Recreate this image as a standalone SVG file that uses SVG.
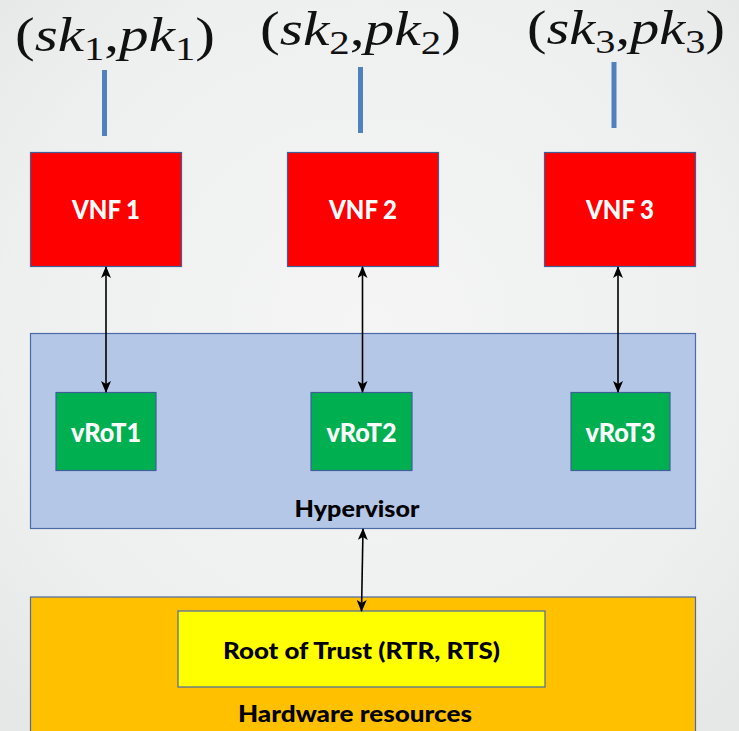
<svg xmlns="http://www.w3.org/2000/svg" width="739" height="731" viewBox="0 0 739 731">
  <defs>
    <radialGradient id="bg" cx="50%" cy="45%" r="70%">
      <stop offset="0" stop-color="#f5f5f5"/>
      <stop offset="0.7" stop-color="#eeefef"/>
      <stop offset="1" stop-color="#e6e7e7"/>
    </radialGradient>
    <marker id="head" viewBox="0 0 12 10" refX="11" refY="5" markerWidth="12" markerHeight="10" markerUnits="userSpaceOnUse" orient="auto-start-reverse">
      <path d="M0,0 L12,5 L0,10 L3,5 Z" fill="#000"/>
    </marker>
  </defs>
  <style>
    .vnf { fill: #ff0000; stroke: #3f5f9a; stroke-width: 1.2; }
    .vrot { fill: #00b050; stroke: #3f5f9a; stroke-width: 1.2; }
    .hyp { fill: #b4c7e7; stroke: #4a6aa8; stroke-width: 1.2; }
    .hw { fill: #ffc000; stroke: #4a6aa8; stroke-width: 1.2; }
    .rot { fill: #ffff00; stroke: #4a6aa8; stroke-width: 1.2; }
    .lbl { font-family: Lato, "Open Sans", "Liberation Sans", sans-serif; font-weight: 900; text-anchor: middle; }
    .w { fill: #ffffff; }
    .k { fill: #000000; }
    .math { font-family: "Liberation Serif", "DejaVu Serif", serif; font-size: 48px; fill: #111; }
    .it { font-style: italic; }
    .sub { font-size: 33px; }
    .key { stroke: #4f81bd; stroke-width: 5; }
    .conn { stroke: #000; stroke-width: 1.6; fill: none; marker-start: url(#head); marker-end: url(#head); }
  </style>

  <rect width="739" height="731" fill="url(#bg)"/>

  <!-- key pair labels -->
  <g id="keys">
    <text class="math" x="15" y="51" textLength="200" lengthAdjust="spacingAndGlyphs">(<tspan class="it">sk</tspan><tspan class="sub" dy="9">1</tspan><tspan dy="-9">,</tspan><tspan class="it">pk</tspan><tspan class="sub" dy="9">1</tspan><tspan dy="-9">)</tspan></text>
    <text class="math" x="260" y="45" textLength="201" lengthAdjust="spacingAndGlyphs">(<tspan class="it">sk</tspan><tspan class="sub" dy="9">2</tspan><tspan dy="-9">,</tspan><tspan class="it">pk</tspan><tspan class="sub" dy="9">2</tspan><tspan dy="-9">)</tspan></text>
    <text class="math" x="527" y="44" textLength="198" lengthAdjust="spacingAndGlyphs">(<tspan class="it">sk</tspan><tspan class="sub" dy="9">3</tspan><tspan dy="-9">,</tspan><tspan class="it">pk</tspan><tspan class="sub" dy="9">3</tspan><tspan dy="-9">)</tspan></text>
    <line class="key" x1="104.5" y1="70" x2="104.5" y2="136"/>
    <line class="key" x1="360.5" y1="67" x2="360.5" y2="133"/>
    <line class="key" x1="614" y1="62" x2="614" y2="128"/>
  </g>

  <!-- hardware layer -->
  <g id="hardware">
    <rect class="hw" x="30.5" y="597" width="665" height="140"/>
    <text class="lbl k" x="355" y="722" font-size="23" textLength="234" lengthAdjust="spacingAndGlyphs">Hardware resources</text>
  </g>
  <g id="rot">
    <rect class="rot" x="178" y="611" width="367" height="76"/>
    <text class="lbl k" x="361.5" y="659" font-size="23" textLength="277" lengthAdjust="spacingAndGlyphs">Root of Trust (RTR, RTS)</text>
  </g>

  <!-- hypervisor layer -->
  <g id="hypervisor">
    <rect class="hyp" x="30.5" y="333.5" width="665" height="195"/>
    <text class="lbl k" x="357" y="517" font-size="22" textLength="125" lengthAdjust="spacingAndGlyphs">Hypervisor</text>
  </g>

  <!-- VNFs -->
  <g id="vnf1">
    <rect class="vnf" x="30.5" y="152.5" width="151" height="114"/>
    <text class="lbl w" x="106" y="219" font-size="27" textLength="68" lengthAdjust="spacingAndGlyphs">VNF 1</text>
  </g>
  <g id="vnf2">
    <rect class="vnf" x="287.5" y="152.5" width="151" height="114"/>
    <text class="lbl w" x="363" y="219" font-size="27" textLength="68" lengthAdjust="spacingAndGlyphs">VNF 2</text>
  </g>
  <g id="vnf3">
    <rect class="vnf" x="544.5" y="152.5" width="151" height="114"/>
    <text class="lbl w" x="620" y="219" font-size="27" textLength="68" lengthAdjust="spacingAndGlyphs">VNF 3</text>
  </g>

  <!-- virtual roots of trust -->
  <g id="vrot1">
    <rect class="vrot" x="56" y="392.5" width="100" height="78"/>
    <text class="lbl w" x="106" y="442" font-size="26" textLength="70" lengthAdjust="spacingAndGlyphs">vRoT1</text>
  </g>
  <g id="vrot2">
    <rect class="vrot" x="311" y="392.5" width="101" height="78"/>
    <text class="lbl w" x="361.5" y="442" font-size="26" textLength="70" lengthAdjust="spacingAndGlyphs">vRoT2</text>
  </g>
  <g id="vrot3">
    <rect class="vrot" x="571" y="392.5" width="99" height="78"/>
    <text class="lbl w" x="620.5" y="442" font-size="26" textLength="70" lengthAdjust="spacingAndGlyphs">vRoT3</text>
  </g>

  <!-- connectors -->
  <g id="connectors">
    <line class="conn" x1="106" y1="267" x2="106" y2="392"/>
    <line class="conn" x1="362.5" y1="267" x2="362.5" y2="392"/>
    <line class="conn" x1="618" y1="267" x2="618" y2="392"/>
    <line class="conn" x1="363" y1="529" x2="361.5" y2="611"/>
  </g>
</svg>
